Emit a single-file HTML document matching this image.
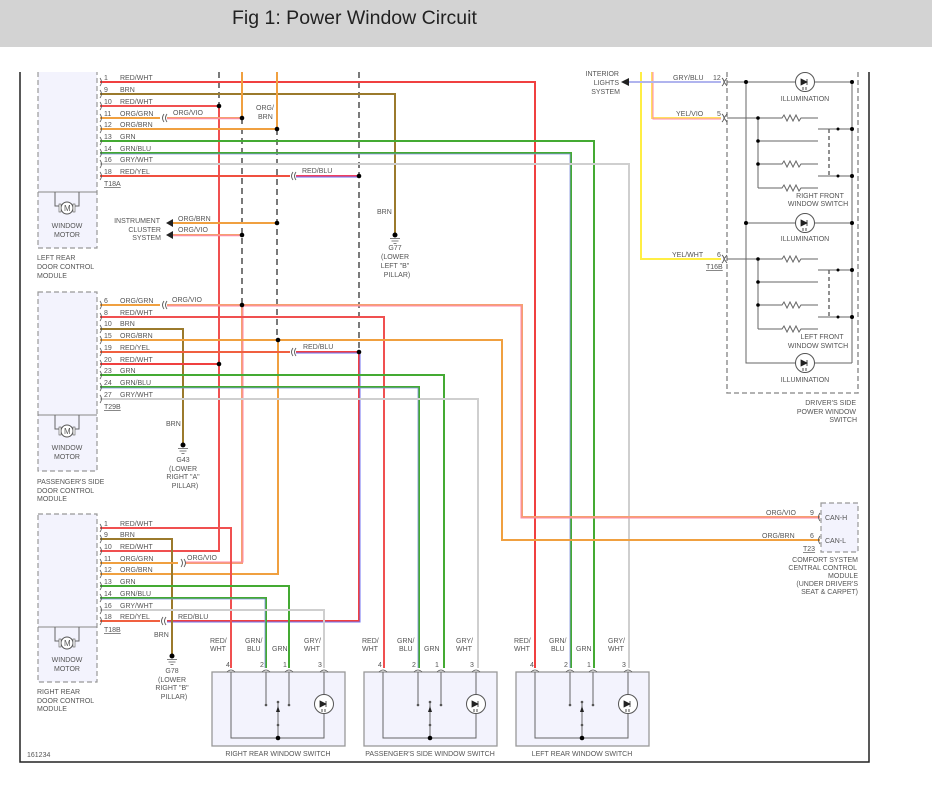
<!DOCTYPE html>
<html><head><meta charset="utf-8"><style>
html,body{margin:0;padding:0;background:#fff;width:932px;height:791px;overflow:hidden}
#hd{position:absolute;left:0;top:0;width:932px;height:47px;background:#d3d3d3}
#hd span{position:absolute;left:232px;top:7px;font:19.5px "Liberation Sans",sans-serif;color:#222}
svg{position:absolute;left:0;top:0}
text{font-family:"Liberation Sans",sans-serif;font-size:7px;fill:#555}
.w{fill:none;stroke-width:2}
.k{fill:none;stroke:#666;stroke-width:1}
.d{fill:none;stroke:#333;stroke-width:1.3;stroke-dasharray:6,4}
.m{fill:#f3f3fd;stroke:#999;stroke-width:1.2;stroke-dasharray:5,3}
</style></head><body>
<div id="hd"><span>Fig 1: Power Window Circuit</span></div>
<svg width="932" height="791" viewBox="0 0 932 791">
<defs>
<g id="gnd"><circle cx="0" cy="0" r="2.5" fill="#000"/><path d="M-5,3.5H5M-3.5,6H3.5M-1.5,8.5H1.5" stroke="#555" stroke-width="0.8"/></g>
<g id="led"><circle cx="0" cy="0" r="9.5" fill="#fff" stroke="#555"/><path d="M-4,-3L2,0L-4,3Z M2,-3V3" fill="#222" stroke="#222" stroke-width="0.8"/><path d="M-2,5L-2,8M1,5L1,8" stroke="#222" stroke-width="0.8"/></g>
<g id="rc"><path d="M0,-4q3,4 0,8" fill="none" stroke="#555" stroke-width="0.8"/></g>
<g id="mot"><path d="M-12,0V14H-6M12,0V14H6" class="k"/><circle cx="0" cy="16" r="6" fill="#fff" stroke="#555"/><text x="-3" y="19" style="font-size:8px">M</text><rect x="-8" y="12" width="2" height="8" fill="#fff" stroke="#555" stroke-width=".6"/><rect x="6" y="12" width="2" height="8" fill="#fff" stroke="#555" stroke-width=".6"/></g>
<g id="sw">
<rect x="0" y="672" width="133" height="74" fill="#f3f3fd" stroke="#999" stroke-width="1.3"/>
<path d="M19,672V738H112V672M54,672V705M77,672V705M66,702V738" class="k"/>
<circle cx="54" cy="705" r="1.3" fill="#555"/><circle cx="77" cy="705" r="1.3" fill="#555"/><circle cx="66" cy="702" r="1.3" fill="#555"/><circle cx="66" cy="725" r="1.3" fill="#555"/><circle cx="66" cy="738" r="2.3" fill="#000"/>
<path d="M64,712L66,706L68,712Z" fill="#222"/>
<use href="#led" x="112" y="704"/>
<path d="M15,672q4,-4 8,0M50,672q4,-4 8,0M73,672q4,-4 8,0M108,672q4,-4 8,0" fill="none" stroke="#555" stroke-width=".8"/>
<text x="14" y="667">4</text><text x="48" y="667">2</text><text x="71" y="667">1</text><text x="106" y="667">3</text>
<text x="-2" y="643">RED/</text><text x="-2" y="651">WHT</text>
<text x="33" y="643">GRN/</text><text x="35" y="651">BLU</text><text x="60" y="651">GRN</text>
<text x="92" y="643">GRY/</text><text x="92" y="651">WHT</text>
</g>
</defs>

<path d="M20,72V762H869V72" fill="none" stroke="#222" stroke-width="1.5"/>

<path d="M38,72V248H97V72" class="m"/><path d="M38,192H97" stroke="#888"/>
<rect x="38" y="292" width="59" height="179" class="m"/><path d="M38,415H97" stroke="#888"/>
<rect x="38" y="514" width="59" height="168" class="m"/><path d="M38,627H97" stroke="#888"/>
<use href="#mot" x="67" y="192"/><use href="#mot" x="67" y="415"/><use href="#mot" x="67" y="627"/>
<g text-anchor="middle"><text x="67" y="228">WINDOW</text><text x="67" y="237">MOTOR</text>
<text x="67" y="450">WINDOW</text><text x="67" y="459">MOTOR</text>
<text x="67" y="662">WINDOW</text><text x="67" y="671">MOTOR</text></g>
<text x="37" y="260">LEFT REAR</text><text x="37" y="269">DOOR CONTROL</text><text x="37" y="278">MODULE</text>
<text x="37" y="484">PASSENGER'S SIDE</text><text x="37" y="493">DOOR CONTROL</text><text x="37" y="501">MODULE</text>
<text x="37" y="694">RIGHT REAR</text><text x="37" y="703">DOOR CONTROL</text><text x="37" y="711">MODULE</text>
<text x="27" y="757">161234</text>

<path d="M219,72V364M242,118V305M277,129V340M359,72V352" class="d"/>

<path d="M100,82H535V668" class="w" stroke="#f04040"/>
<path d="M100,94H395V234" class="w" stroke="#9b7a2c"/>
<path d="M100,106H219V551H100" class="w" stroke="#f05050"/>
<path d="M100,118H160" class="w" stroke="#f0a040"/>
<path d="M167,118H242M242,235H172" class="w" stroke="#f5a070"/><path d="M167,118.8H242M242,235.8H172" stroke="#f8a" stroke-width="1" fill="none"/>
<path d="M100,129H277M277,223H172M242,72V118M277,72V129" class="w" stroke="#f0a040"/>
<path d="M100,141H594V668" class="w" stroke="#44aa33"/>
<path d="M100,153H571V668" class="w" stroke="#44aa33"/><path d="M100,154H570V668" stroke="#8090e0" stroke-width="0.8" fill="none"/>
<path d="M100,164H629V668" class="w" stroke="#cfcfcf"/>
<path d="M100,176H290" class="w" stroke="#f05040"/>
<path d="M296,176H359" class="w" stroke="#f04060"/><path d="M296,177H359" stroke="#7070f0" stroke-width="1"/>
<path d="M166,223L173,219V227ZM166,235L173,231V239Z" fill="#222"/>

<path d="M100,305H160" class="w" stroke="#f0a040"/>
<path d="M167,305H522V517H820M242,305V563H186" class="w" stroke="#f5a070"/><path d="M167,306H521V518H820M243,305V562H186" stroke="#f8a" stroke-width="1" fill="none"/>
<path d="M100,317H384V668" class="w" stroke="#f05050"/>
<path d="M100,329H183V443" class="w" stroke="#9b7a2c"/>
<path d="M100,340H502V540H820M278,340V574H100" class="w" stroke="#f0a040"/>
<path d="M100,352H290" class="w" stroke="#f06040"/>
<path d="M296,352H359V621H167" class="w" stroke="#f04040"/><path d="M296,353H360V622H167" stroke="#7070f0" stroke-width="1" fill="none"/>
<path d="M100,364H219" class="w" stroke="#f04040"/>
<path d="M100,375H444V668" class="w" stroke="#44aa33"/>
<path d="M100,387H419V668" class="w" stroke="#44aa33"/><path d="M100,388H418V668" stroke="#8090e0" stroke-width="0.8" fill="none"/>
<path d="M100,399H478V668" class="w" stroke="#cfcfcf"/>

<path d="M100,528H231V668" class="w" stroke="#f05050"/>
<path d="M100,539H172V654" class="w" stroke="#9b7a2c"/>
<path d="M100,563H178" class="w" stroke="#f0a040"/>
<path d="M100,586H289V668" class="w" stroke="#44aa33"/>
<path d="M100,598H266V668" class="w" stroke="#44aa33"/><path d="M100,599H265V668" stroke="#8090e0" stroke-width="0.8" fill="none"/>
<path d="M100,610H324V668" class="w" stroke="#cfcfcf"/>
<path d="M100,621H160" class="w" stroke="#f06040"/>

<g fill="none" stroke="#555" stroke-width=".9">
<path d="M164,114q-3,4 0,8M167,114q-3,4 0,8"/><path d="M164,301q-3,4 0,8M167,301q-3,4 0,8"/>
<path d="M293,172q-3,4 0,8M296,172q-3,4 0,8"/><path d="M293,348q-3,4 0,8M296,348q-3,4 0,8"/>
<path d="M181,559q3,4 0,8M184,559q3,4 0,8"/><path d="M163,617q-3,4 0,8M166,617q-3,4 0,8"/>
</g>
<g>
<use href="#rc" x="100" y="82"/><use href="#rc" x="100" y="94"/><use href="#rc" x="100" y="106"/><use href="#rc" x="100" y="118"/><use href="#rc" x="100" y="129"/><use href="#rc" x="100" y="141"/><use href="#rc" x="100" y="153"/><use href="#rc" x="100" y="164"/><use href="#rc" x="100" y="176"/>
<use href="#rc" x="100" y="305"/><use href="#rc" x="100" y="317"/><use href="#rc" x="100" y="329"/><use href="#rc" x="100" y="340"/><use href="#rc" x="100" y="352"/><use href="#rc" x="100" y="364"/><use href="#rc" x="100" y="375"/><use href="#rc" x="100" y="387"/><use href="#rc" x="100" y="399"/>
<use href="#rc" x="100" y="528"/><use href="#rc" x="100" y="539"/><use href="#rc" x="100" y="551"/><use href="#rc" x="100" y="563"/><use href="#rc" x="100" y="574"/><use href="#rc" x="100" y="586"/><use href="#rc" x="100" y="598"/><use href="#rc" x="100" y="610"/><use href="#rc" x="100" y="621"/>
</g>
<g fill="#000">
<circle cx="219" cy="106" r="2.3"/><circle cx="242" cy="118" r="2.3"/><circle cx="277" cy="129" r="2.3"/><circle cx="359" cy="176" r="2.3"/>
<circle cx="277" cy="223" r="2.3"/><circle cx="242" cy="235" r="2.3"/>
<circle cx="242" cy="305" r="2.3"/><circle cx="278" cy="340" r="2.3"/><circle cx="359" cy="352" r="2.3"/><circle cx="219" cy="364" r="2.3"/>
</g>
<use href="#gnd" x="395" y="235"/><use href="#gnd" x="183" y="445"/><use href="#gnd" x="172" y="656"/>

<g>
<text x="104" y="80">1</text><text x="120" y="80">RED/WHT</text>
<text x="104" y="92">9</text><text x="120" y="92">BRN</text>
<text x="104" y="104">10</text><text x="120" y="104">RED/WHT</text>
<text x="104" y="116">11</text><text x="120" y="116">ORG/GRN</text><text x="173" y="115">ORG/VIO</text>
<text x="104" y="127">12</text><text x="120" y="127">ORG/BRN</text>
<text x="104" y="139">13</text><text x="120" y="139">GRN</text>
<text x="104" y="151">14</text><text x="120" y="151">GRN/BLU</text>
<text x="104" y="162">16</text><text x="120" y="162">GRY/WHT</text>
<text x="104" y="174">18</text><text x="120" y="174">RED/YEL</text><text x="302" y="173">RED/BLU</text>
<text x="104" y="186" text-decoration="underline">T18A</text>
<text x="256" y="110">ORG/</text><text x="258" y="119">BRN</text>
<text x="178" y="221">ORG/BRN</text><text x="178" y="232">ORG/VIO</text>
<g text-anchor="end"><text x="160" y="223">INSTRUMENT</text><text x="161" y="232">CLUSTER</text><text x="161" y="240">SYSTEM</text></g>
<text x="377" y="214">BRN</text>
<g text-anchor="middle"><text x="395" y="250">G77</text><text x="395" y="259">(LOWER</text><text x="395" y="268">LEFT "B"</text><text x="397" y="277">PILLAR)</text>
<text x="183" y="462">G43</text><text x="183" y="471">(LOWER</text><text x="183" y="479">RIGHT "A"</text><text x="185" y="488">PILLAR)</text>
<text x="172" y="673">G78</text><text x="172" y="682">(LOWER</text><text x="172" y="690">RIGHT "B"</text><text x="174" y="699">PILLAR)</text></g>
<text x="166" y="426">BRN</text><text x="154" y="637">BRN</text>

<text x="104" y="303">6</text><text x="120" y="303">ORG/GRN</text><text x="172" y="302">ORG/VIO</text>
<text x="104" y="315">8</text><text x="120" y="315">RED/WHT</text>
<text x="104" y="326">10</text><text x="120" y="326">BRN</text>
<text x="104" y="338">15</text><text x="120" y="338">ORG/BRN</text>
<text x="104" y="350">19</text><text x="120" y="350">RED/YEL</text><text x="303" y="349">RED/BLU</text>
<text x="104" y="362">20</text><text x="120" y="362">RED/WHT</text>
<text x="104" y="373">23</text><text x="120" y="373">GRN</text>
<text x="104" y="385">24</text><text x="120" y="385">GRN/BLU</text>
<text x="104" y="397">27</text><text x="120" y="397">GRY/WHT</text>
<text x="104" y="409" text-decoration="underline">T29B</text>

<text x="104" y="526">1</text><text x="120" y="526">RED/WHT</text>
<text x="104" y="537">9</text><text x="120" y="537">BRN</text>
<text x="104" y="549">10</text><text x="120" y="549">RED/WHT</text>
<text x="104" y="561">11</text><text x="120" y="561">ORG/GRN</text><text x="187" y="560">ORG/VIO</text>
<text x="104" y="572">12</text><text x="120" y="572">ORG/BRN</text>
<text x="104" y="584">13</text><text x="120" y="584">GRN</text>
<text x="104" y="596">14</text><text x="120" y="596">GRN/BLU</text>
<text x="104" y="608">16</text><text x="120" y="608">GRY/WHT</text>
<text x="104" y="619">18</text><text x="120" y="619">RED/YEL</text><text x="178" y="619">RED/BLU</text>
<text x="104" y="632" text-decoration="underline">T18B</text>
</g>

<use href="#sw" x="212"/><use href="#sw" x="364"/><use href="#sw" x="516"/>
<g text-anchor="middle"><text x="278" y="756">RIGHT REAR WINDOW SWITCH</text><text x="430" y="756">PASSENGER'S SIDE WINDOW SWITCH</text><text x="582" y="756">LEFT REAR WINDOW SWITCH</text></g>

<path d="M727,72V393H858V72" fill="none" stroke="#999" stroke-width="1.6" stroke-dasharray="5,3"/>
<path d="M641,72V259H721" class="w" stroke="#ffee44"/>
<path d="M652,72V118H721" class="w" stroke="#ffe060"/><path d="M653,72V119H721" stroke="#f8a" stroke-width="1" fill="none"/>
<path d="M628,82H721" class="w" stroke="#b0b4ee"/>
<path d="M621,82L629,78V86Z" fill="#222"/>
<g text-anchor="end"><text x="619" y="76">INTERIOR</text><text x="619" y="85">LIGHTS</text><text x="620" y="94">SYSTEM</text></g>
<text x="673" y="80">GRY/BLU</text><text x="713" y="80">12</text>
<text x="676" y="116">YEL/VIO</text><text x="717" y="116">5</text>
<text x="672" y="257">YEL/WHT</text><text x="717" y="257">6</text><text x="706" y="269" text-decoration="underline">T16B</text>
<g fill="none" stroke="#555" stroke-width=".9">
<path d="M722,78q4,4 0,8M727,78l-3,4l3,4"/><path d="M722,114q4,4 0,8M727,114l-3,4l3,4"/><path d="M722,255q4,4 0,8M727,255l-3,4l3,4"/>
</g>
<path d="M727,82H852M746,82V363H852M852,82V363M746,223H852" class="k"/>
<g id="fs">
<path d="M727,118H782l2,-3 3,6 3,-6 3,6 3,-6 3,6 2,-3H818M758,118V188M758,141H818M758,164H782l2,-3 3,6 3,-6 3,6 3,-6 3,6 2,-3H818M758,188H782l2,-3 3,6 3,-6 3,6 3,-6 3,6 2,-3H818M818,129H852M818,176H852" class="k"/>
<path d="M829,129V176" fill="none" stroke="#555" stroke-width="1.3" stroke-dasharray="4,3"/>
<g fill="#000"><circle cx="758" cy="118" r="1.8"/><circle cx="758" cy="141" r="1.8"/><circle cx="758" cy="164" r="1.8"/><circle cx="838" cy="129" r="1.5"/><circle cx="852" cy="129" r="2"/><circle cx="838" cy="176" r="1.5"/><circle cx="852" cy="176" r="2"/></g>
</g>
<use href="#fs" y="141"/>
<g fill="#000"><circle cx="746" cy="82" r="2"/><circle cx="852" cy="82" r="2"/><circle cx="746" cy="223" r="2"/><circle cx="852" cy="223" r="2"/></g>
<use href="#led" x="805" y="82"/><use href="#led" x="805" y="223"/><use href="#led" x="805" y="363"/>
<g text-anchor="middle"><text x="805" y="101">ILLUMINATION</text><text x="805" y="241">ILLUMINATION</text><text x="805" y="382">ILLUMINATION</text>
<text x="820" y="198">RIGHT FRONT</text><text x="818" y="206">WINDOW SWITCH</text>
<text x="822" y="339">LEFT FRONT</text><text x="818" y="348">WINDOW SWITCH</text></g>
<g text-anchor="end"><text x="856" y="405">DRIVER'S SIDE</text><text x="856" y="414">POWER WINDOW</text><text x="857" y="422">SWITCH</text></g>

<rect x="821" y="503" width="37" height="49" class="m"/>
<path d="M820,513q-3,4 0,8M820,536q-3,4 0,8" fill="none" stroke="#555" stroke-width=".9"/>
<text x="825" y="520">CAN-H</text><text x="825" y="543">CAN-L</text>
<text x="766" y="515">ORG/VIO</text><text x="810" y="515">9</text>
<text x="762" y="538">ORG/BRN</text><text x="810" y="538">6</text>
<text x="803" y="551" text-decoration="underline">T23</text>
<g text-anchor="end"><text x="858" y="562">COMFORT SYSTEM</text><text x="857" y="570">CENTRAL CONTROL</text><text x="858" y="578">MODULE</text><text x="858" y="586">(UNDER DRIVER'S</text><text x="858" y="594">SEAT &amp; CARPET)</text></g>
</svg>
</body></html>
